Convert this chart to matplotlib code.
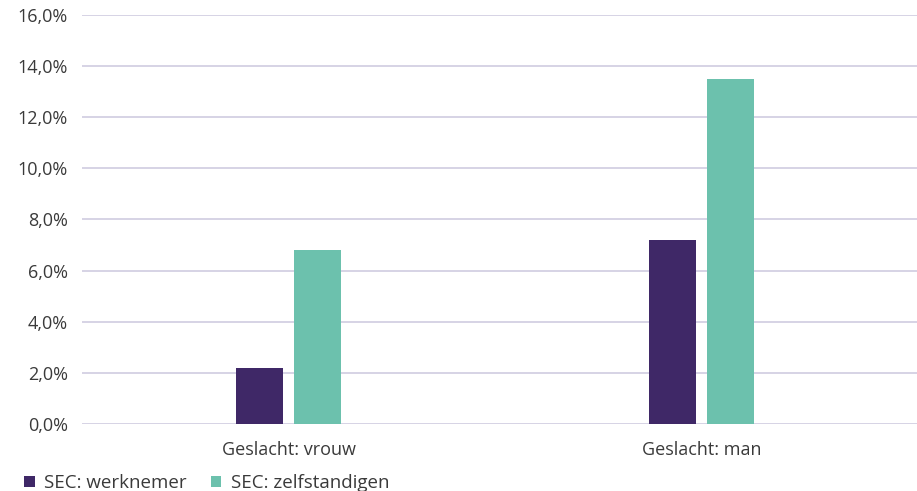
import matplotlib.pyplot as plt
import matplotlib.ticker as mticker
import numpy as np

categories = ["Geslacht: vrouw", "Geslacht: man"]
series_names = ["SEC: werknemer", "SEC: zelfstandigen"]
werknemer = [2.2, 7.2]
zelfstandigen = [6.8, 13.5]

colors = ["#3F2867", "#6CC1AD"]
text_color = "#3a3a3a"

plt.rcParams['font.family'] = ['Open Sans', 'DejaVu Sans']

fig = plt.figure(figsize=(9.17, 4.91), dpi=100)
ax = fig.add_axes([82 / 917, 67 / 491, 835 / 917, 409 / 491])

x = np.arange(len(categories))
width = 0.114
ax.bar(x - 0.071, werknemer, width, color=colors[0], label=series_names[0], zorder=3)
ax.bar(x + 0.069, zelfstandigen, width, color=colors[1], label=series_names[1], zorder=3)

ax.set_xlim(-0.5, 1.52)
ax.set_ylim(0, 16)
ax.set_yticks(np.arange(0, 17, 2))
ax.yaxis.set_major_formatter(mticker.FuncFormatter(lambda v, p: f"{v:.1f}%".replace(".", ",")))
ax.set_xticks(x)
ax.set_xticklabels(categories)

ax.grid(axis='y', color="#D0CCE0", linewidth=1.2, zorder=0)
for s in ax.spines.values():
    s.set_visible(False)
ax.tick_params(axis='both', length=0, labelsize=13, colors=text_color)
ax.tick_params(axis='y', pad=10)
ax.tick_params(axis='x', pad=12)

fig.legend(loc='lower left', bbox_to_anchor=(0.008, -0.036), ncol=2, frameon=False,
           fontsize=13.5, handlelength=0.55, handleheight=0.55, handletextpad=0.5,
           columnspacing=1.3, labelcolor=text_color)

fig.savefig("out.png", dpi=100)
